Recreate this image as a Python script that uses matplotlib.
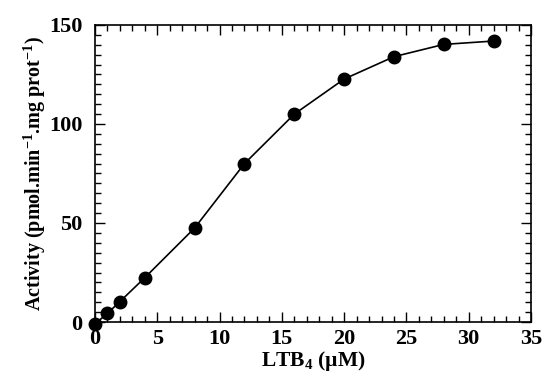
import numpy as np
import matplotlib.pyplot as plt
from matplotlib.ticker import MultipleLocator

ltb4 = [0, 1, 2, 4, 8, 12, 16, 20, 24, 28, 32]
activity = [-1, 4.4, 10.3, 22.4, 47.5, 80, 105, 122.7, 134, 140.2, 141.9]

plt.rcParams['font.family'] = ['Liberation Serif', 'DejaVu Serif']
plt.rcParams['font.weight'] = 'bold'
plt.rcParams['mathtext.fontset'] = 'custom'
plt.rcParams['mathtext.rm'] = 'Liberation Serif:bold'
plt.rcParams['mathtext.it'] = 'Liberation Serif:bold'
plt.rcParams['mathtext.bf'] = 'Liberation Serif:bold'

fig = plt.figure(figsize=(5.5, 3.79), dpi=100)
ax = fig.add_axes([95 / 550, 1 - 322 / 379, 436 / 550, 297 / 379])

ax.plot(ltb4, activity, '-', color='black', lw=1.2, marker='o',
        markersize=9, clip_on=False, zorder=3)

ax.set_xlim(0, 35)
ax.set_ylim(0, 150)
ax.xaxis.set_major_locator(MultipleLocator(5))
ax.xaxis.set_minor_locator(MultipleLocator(1))
ax.yaxis.set_major_locator(MultipleLocator(50))
ax.yaxis.set_minor_locator(MultipleLocator(5))
ax.tick_params(which='both', direction='in', top=True, right=True,
               labelsize=16, width=1)
ax.tick_params(which='major', length=7)
ax.tick_params(which='minor', length=4)
ax.tick_params(axis='x', which='major', pad=5)
ax.tick_params(axis='y', which='major', pad=9)
for s in ax.spines.values():
    s.set_linewidth(1.2)

ax.set_xlabel('LTB$_4$ (µM)', fontsize=15.5, fontweight='bold', labelpad=0)
ax.set_ylabel('Activity (pmol.min$^{-1}$.mg prot$^{-1}$)', fontsize=14.5,
              fontweight='bold', labelpad=1)

fig.savefig('out.png', dpi=100)
